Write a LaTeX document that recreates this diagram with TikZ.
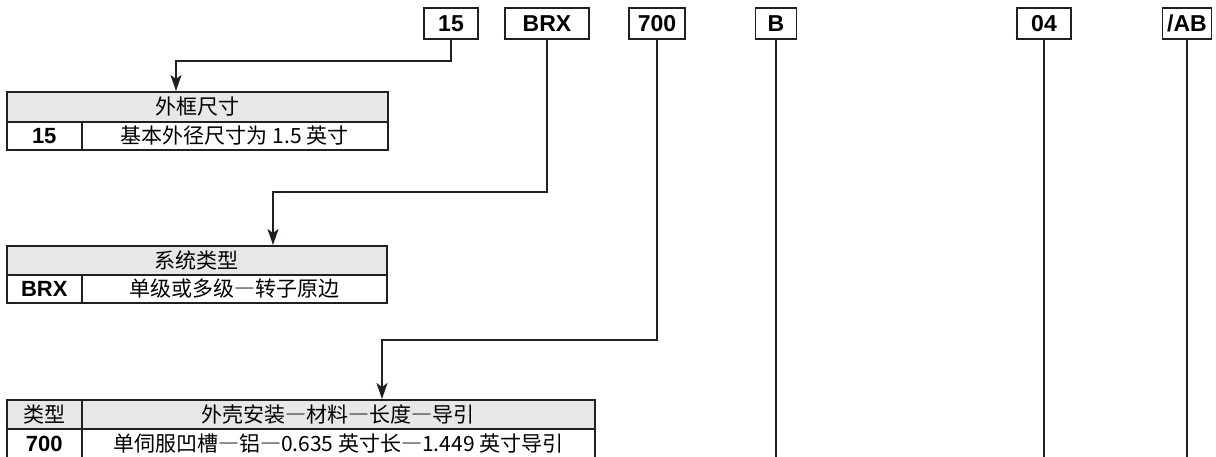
\documentclass[tikz,border=0pt]{standalone}
\usepackage{fontspec}
\setmainfont{Liberation Sans}
\newfontfamily\cjk{Noto Sans CJK SC}
\usetikzlibrary{arrows.meta,positioning,calc}
\definecolor{ink}{HTML}{231F20}
\definecolor{headgray}{HTML}{E6E7E8}
\newcommand\cdash{{\addfontfeatures{RawFeature=+fwid}—}}
\tikzset{
  codebox/.style={draw=ink,line width=1.5pt,inner sep=0pt,minimum height=31pt,
    font=\fontsize{23}{23}\selectfont\bfseries},
  headcell/.style={draw=ink,line width=1.5pt,fill=headgray,anchor=north west,
    inner sep=0pt,font=\cjk\fontsize{21}{21}\selectfont},
  codecell/.style={draw=ink,line width=1.5pt,anchor=north west,inner sep=0pt,
    minimum width=75pt,font=\fontsize{22}{22}\selectfont\bfseries},
  desccell/.style={draw=ink,line width=1.5pt,anchor=north west,inner sep=0pt,
    font=\cjk\fontsize{21}{21}\selectfont},
  flow/.style={ink,line width=1.5pt,-{Stealth[length=16pt,width=11pt,inset=4pt]}},
  lead/.style={ink,line width=1.5pt}
}
\begin{document}
\begin{tikzpicture}[x=1pt,y=-1pt]
  \useasboundingbox (0,0) rectangle (1216,456);
  \coordinate (bottom) at (0,460);
  \node[codebox,minimum width=54pt] (size) at (451,23.5) {15};
  \node[codebox,minimum width=84pt] (system) at (547,23.5) {BRX};
  \node[codebox,minimum width=56pt] (housing) at (657,23.5) {700};
  \node[codebox,minimum width=41pt] (option) at (776,23.5) {B};
  \node[codebox,minimum width=54pt] (winding) at (1044,23.5) {04};
  \node[codebox,minimum width=49pt] (special) at (1187,23.5) {/AB};

  \node[headcell,minimum width=381pt,minimum height=30pt] (sizehead) at (6,91) {外框尺寸};
  \node[codecell,minimum height=28pt] (sizecode) at (6,121) {15};
  \node[desccell,minimum width=306pt,minimum height=28pt] (sizedesc) at (81,121) {基本外径尺寸为 1.5 英寸};

  \node[headcell,minimum width=380pt,minimum height=29pt] (systemhead) at (6,245) {系统类型};
  \node[codecell,minimum height=28pt] (systemcode) at (6,274) {BRX};
  \node[desccell,minimum width=305pt,minimum height=28pt] (systemdesc) at (81,274) {单级或多级\cdash 转子原边};

  \node[headcell,minimum width=75pt,minimum height=29pt] (housingtype) at (6,399) {类型};
  \node[headcell,minimum width=513pt,minimum height=29pt] (housinghead) at (81,399) {外壳安装\cdash 材料\cdash 长度\cdash 导引};
  \node[codecell,minimum height=30pt] (housingcode) at (6,428) {700};
  \node[desccell,minimum width=513pt,minimum height=30pt] (housingdesc) at (81,428) {单伺服凹槽\cdash 铝\cdash 0.635 英寸长\cdash 1.449 英寸导引};

  \coordinate (sizein) at (176,91);
  \coordinate (systemin) at (273,245);
  \coordinate (housingin) at (382,399);
  \draw[flow] (size.south) -- ++(0,21) -| (sizein);
  \draw[flow] (system.south) -- ++(0,152) -| (systemin);
  \draw[flow] (housing.south) -- ++(0,300) -| (housingin);
  \draw[lead] (option.south) -- (option.south |- bottom);
  \draw[lead] (winding.south) -- (winding.south |- bottom);
  \draw[lead] (special.south) -- (special.south |- bottom);
\end{tikzpicture}
\end{document}
